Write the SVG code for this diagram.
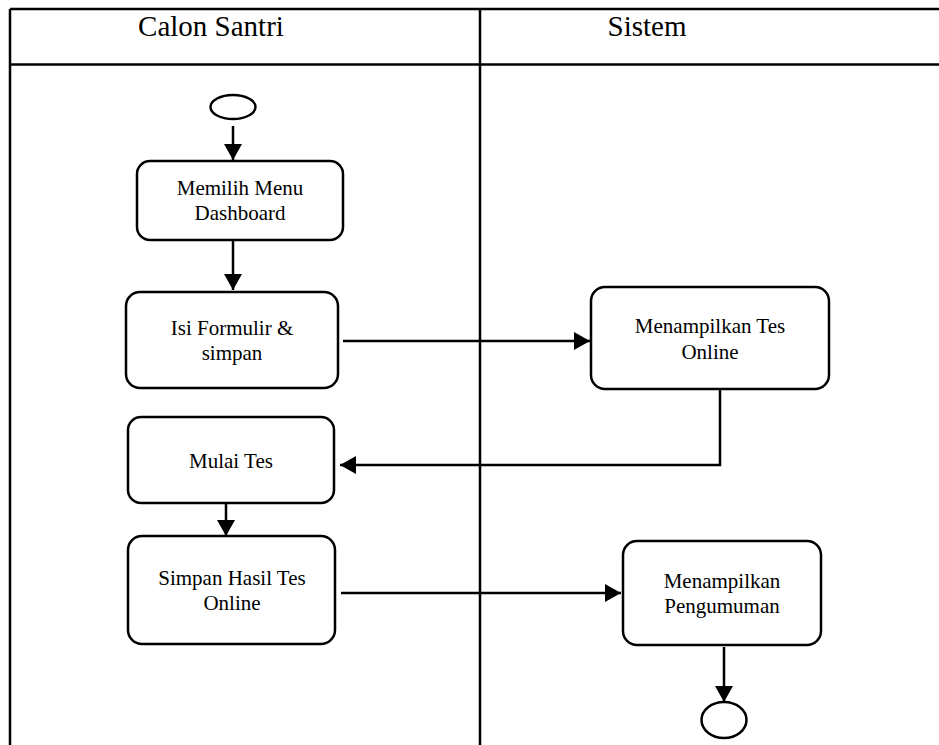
<svg xmlns="http://www.w3.org/2000/svg" width="939" height="745" viewBox="0 0 939 745">
<style>
.lane{stroke:#000;stroke-width:2.5;fill:none}
.node{fill:#fff;stroke:#000;stroke-width:2.5}
.conn{fill:none;stroke:#000;stroke-width:2.5;marker-end:url(#arr)}
.hdr{font-family:'Liberation Serif','Times New Roman',serif;font-size:29px;text-anchor:middle;fill:#000}
.lbl{font-family:'Liberation Serif','Times New Roman',serif;font-size:21px;text-anchor:middle;fill:#000}
</style>
<defs>
<marker id="arr" markerUnits="userSpaceOnUse" markerWidth="18" markerHeight="18" viewBox="0 0 16 18" refX="16" refY="9" orient="auto">
<path d="M0,0 L16,9 L0,18 Z" fill="#000"/>
</marker>
</defs>
<rect width="939" height="745" fill="#fff"/>
<g id="lanes">
<line class="lane" x1="10" y1="9" x2="939" y2="9"/>
<line class="lane" x1="10" y1="64.5" x2="939" y2="64.5"/>
<line class="lane" x1="10" y1="9" x2="10" y2="745"/>
<line class="lane" x1="480" y1="9" x2="480" y2="745"/>
<text class="hdr" x="211" y="36">Calon Santri</text>
<text class="hdr" x="647" y="36">Sistem</text>
</g>
<g id="connectors">
<line class="conn" x1="233" y1="126" x2="233" y2="160"/>
<line class="conn" x1="233" y1="240" x2="233" y2="290"/>
<line class="conn" x1="343" y1="341" x2="590" y2="341"/>
<polyline class="conn" points="720,389 720,465 340,465"/>
<line class="conn" x1="226" y1="503" x2="226" y2="536"/>
<line class="conn" x1="341" y1="593" x2="621" y2="593"/>
<line class="conn" x1="724" y1="647" x2="724" y2="702"/>
</g>
<g id="start">
<ellipse class="node" cx="233" cy="107" rx="22.5" ry="12"/>
</g>
<g id="memilih-menu">
<rect class="node" x="137" y="161" width="206" height="79" rx="13"/>
<text class="lbl" x="240" y="195">Memilih Menu</text>
<text class="lbl" x="240" y="220">Dashboard</text>
</g>
<g id="isi-formulir">
<rect class="node" x="126" y="292" width="212" height="96" rx="14"/>
<text class="lbl" x="232" y="335">Isi Formulir &amp;</text>
<text class="lbl" x="232" y="360">simpan</text>
</g>
<g id="menampilkan-tes">
<rect class="node" x="591" y="287" width="238" height="102" rx="14"/>
<text class="lbl" x="710" y="333">Menampilkan Tes</text>
<text class="lbl" x="710" y="359">Online</text>
</g>
<g id="mulai-tes">
<rect class="node" x="128" y="417" width="206" height="86" rx="13"/>
<text class="lbl" x="231" y="468">Mulai Tes</text>
</g>
<g id="simpan-hasil">
<rect class="node" x="128" y="536" width="207" height="108" rx="14"/>
<text class="lbl" x="232" y="585">Simpan Hasil Tes</text>
<text class="lbl" x="232" y="610">Online</text>
</g>
<g id="menampilkan-pengumuman">
<rect class="node" x="623" y="541" width="198" height="104" rx="14"/>
<text class="lbl" x="722" y="588">Menampilkan</text>
<text class="lbl" x="722" y="613">Pengumuman</text>
</g>
<g id="end">
<ellipse class="node" cx="724" cy="720" rx="22.5" ry="18"/>
</g>
</svg>
